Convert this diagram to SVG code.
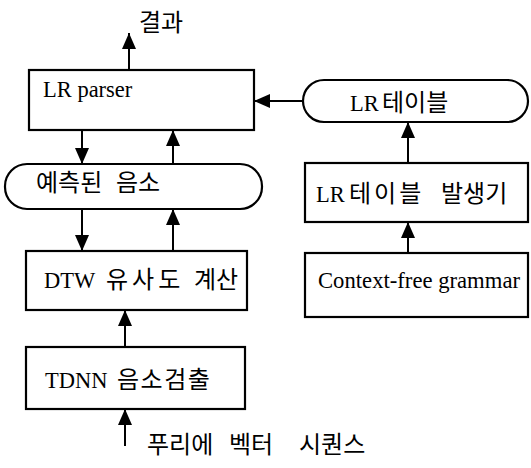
<svg xmlns="http://www.w3.org/2000/svg" width="531" height="468" viewBox="0 0 531 468">
<defs>
<marker id="ah" markerUnits="userSpaceOnUse" markerWidth="17" markerHeight="14" refX="16" refY="7" orient="auto">
<path d="M0,0 L16,7 L0,14 Z" fill="#000"/>
</marker>
<style>
.box{fill:#fff;stroke:#000;stroke-width:2.2}
.t{font-family:"Liberation Serif","Noto Sans CJK KR",serif;font-size:22.5px;fill:#000}
.k{font-family:"Noto Sans CJK KR","Liberation Serif",sans-serif;font-size:24px;fill:#000}
.c{stroke:#000;stroke-width:2;fill:none;marker-end:url(#ah)}
</style>
</defs>
<rect width="531" height="468" fill="#fff"/>
<g id="connectors">
<line class="c" x1="129" y1="70" x2="129" y2="33"/>
<line class="c" x1="82" y1="130" x2="82" y2="164"/>
<line class="c" x1="173" y1="164" x2="173" y2="130"/>
<line class="c" x1="82" y1="209" x2="82" y2="251"/>
<line class="c" x1="173" y1="251" x2="173" y2="209"/>
<line class="c" x1="125" y1="347" x2="125" y2="310"/>
<line class="c" x1="125" y1="446" x2="125" y2="409"/>
<line class="c" x1="303" y1="101" x2="254" y2="101"/>
<line class="c" x1="408" y1="163" x2="408" y2="122"/>
<line class="c" x1="408" y1="253" x2="408" y2="222"/>
</g>
<g id="result"><text class="k" x="139" y="31">결과</text></g>
<g id="lr-parser"><rect class="box" x="29" y="70" width="225" height="60"/><text class="t" x="43" y="97">LR parser</text></g>
<g id="predicted-phoneme"><rect class="box" x="5" y="164" width="257" height="45" rx="22" ry="22"/><text class="k" y="191"><tspan x="36">예측된</tspan><tspan x="116">음소</tspan></text></g>
<g id="dtw"><rect class="box" x="26" y="251" width="221" height="59"/><text class="t" y="288"><tspan x="44">DTW</tspan><tspan class="k" x="106" letter-spacing="4">유사도</tspan><tspan class="k" x="194">계산</tspan></text></g>
<g id="tdnn"><rect class="box" x="26" y="347" width="219" height="62"/><text class="t" y="388"><tspan x="45">TDNN</tspan><tspan class="k" x="117" letter-spacing="1.5">음소검출</tspan></text></g>
<g id="fourier"><text class="k" y="453"><tspan x="147">푸리에</tspan><tspan x="229">벡터</tspan><tspan x="299">시퀀스</tspan></text></g>
<g id="lr-table"><rect class="box" x="303" y="80" width="225" height="42" rx="21" ry="21"/><text class="t" y="111"><tspan x="350">LR</tspan><tspan class="k" x="382">테이블</tspan></text></g>
<g id="lr-table-gen"><rect class="box" x="305" y="163" width="223" height="59"/><text class="t" y="202"><tspan x="316">LR</tspan><tspan class="k" x="349" letter-spacing="3">테이블</tspan><tspan class="k" x="441">발생기</tspan></text></g>
<g id="grammar"><rect class="box" x="305" y="253" width="223" height="64"/><text class="t" x="318" y="288" textLength="202" lengthAdjust="spacingAndGlyphs">Context-free grammar</text></g>
</svg>
